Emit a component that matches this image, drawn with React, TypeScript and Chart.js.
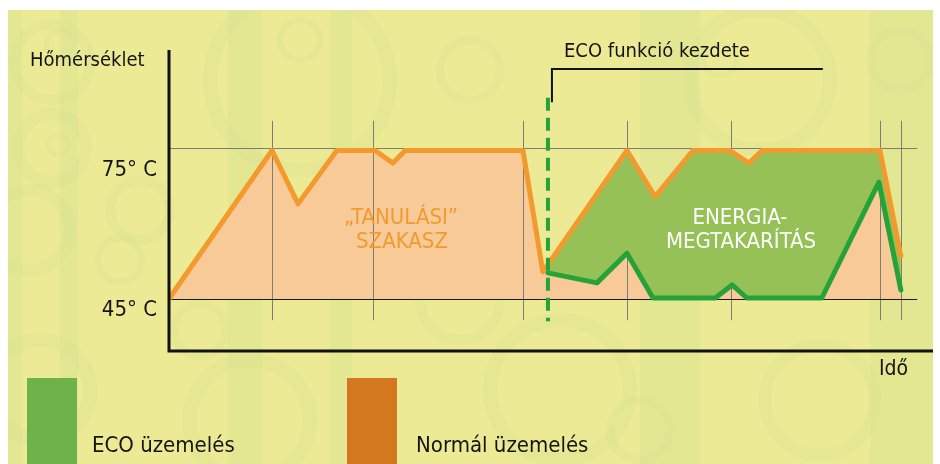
import React, { useEffect, useRef } from 'react';
import { Chart, registerables } from 'chart.js';

Chart.register(...registerables);

// ---- data (time in arbitrary units, temperature in °C) ----
const normalTime = [0.3, 20.4, 25.5, 33.1, 40.6, 44.1, 46.5, 69.6, 73.5, 90, 95.5, 102.9, 110.2, 113.9, 116.5, 139.6, 143.7];
const normalTemp = [45.2, 74.5, 63.9, 74.5, 74.5, 72.0, 74.5, 74.5, 50.4, 74.5, 65.3, 74.5, 74.5, 72.0, 74.5, 74.5, 53.5];
const ecoTime = [74.5, 84.1, 90, 95.1, 107.3, 110.6, 113.5, 128.2, 139.4, 143.7];
const ecoTemp = [50.2, 48.2, 54.1, 45.2, 45.2, 47.8, 45.2, 45.2, 68.2, 46.8];
const markerTimes = [20.4, 40.2, 69.6, 90, 110.4, 139.6, 143.7];
const ecoStartTime = 74.5;
const tempLevels = [75, 45];
const tempLabels = ['75° C', '45° C'];
const seriesNames = ['ECO üzemelés', 'Normál üzemelés'];
const axisTitles = ['Hőmérséklet', 'Idő'];
const ecoStartLabel = 'ECO funkció kezdete';
const learningLabel = ['„TANULÁSI”', 'SZAKASZ'];
const savingLabel = ['ENERGIA-', 'MEGTAKARÍTÁS'];

const FONT = '"DejaVu Sans Condensed", "Liberation Sans Narrow", Roboto, sans-serif';
const C = {
  bg: '#ecea94',
  peach: '#f8ca98',
  orange: '#f39a2e',
  greenFill: '#95c156',
  greenLine: '#27a238',
  legendGreen: '#6db34a',
  legendOrange: '#d3781e',
  grid: '#7d7d76',
  ink: '#141414',
};

const rings: [number, number, number, number][] = [
  [52, 62, 38, 10], [60, 45, 14, 5], [52, 148, 34, 12], [58, 145, 10, 4], [30, 230, 40, 12],
  [140, 210, 30, 10], [40, 390, 50, 14], [120, 260, 22, 7], [300, 80, 90, 14], [300, 40, 20, 6],
  [250, 420, 60, 14], [470, 70, 30, 8], [560, 390, 70, 14], [640, 430, 30, 8], [760, 80, 70, 14],
  [720, 60, 16, 5], [820, 400, 55, 12], [900, 60, 30, 8], [460, 300, 40, 10], [200, 330, 26, 8],
];
const bands: [number, number][] = [[8, 22], [60, 78], [228, 262], [330, 352], [640, 700], [870, 933]];

function txt(ctx: CanvasRenderingContext2D, s: string, x: number, y: number, size: number, color: string, align: CanvasTextAlign = 'left') {
  ctx.save();
  ctx.font = `${size}px ${FONT}`;
  ctx.fillStyle = color;
  ctx.textAlign = align;
  ctx.textBaseline = 'alphabetic';
  ctx.fillText(s, x, y);
  ctx.restore();
}

const decorPlugin = {
  id: 'decor',
  beforeDraw(chart: any) {
    const ctx = chart.ctx as CanvasRenderingContext2D;
    ctx.save();
    ctx.fillStyle = '#ffffff';
    ctx.fillRect(0, 0, chart.width, chart.height);
    ctx.beginPath();
    ctx.rect(8, 10, 925, 454);
    ctx.clip();
    ctx.fillStyle = C.bg;
    ctx.fillRect(8, 10, 925, 454);
    ctx.fillStyle = 'rgba(200,222,140,0.22)';
    bands.forEach(([a, b]) => ctx.fillRect(a, 10, b - a, 454));
    ctx.strokeStyle = 'rgba(205,224,140,0.22)';
    rings.forEach(([x, y, r, w]) => {
      ctx.lineWidth = w;
      ctx.beginPath();
      ctx.arc(x, y, r, 0, Math.PI * 2);
      ctx.stroke();
    });
    ctx.restore();
  },
  afterDatasetDraw(chart: any, args: any) {
    if (args.index !== 2) return;
    const ctx = chart.ctx as CanvasRenderingContext2D;
    const xs = chart.scales.x;
    const ys = chart.scales.y;
    ctx.save();
    ctx.strokeStyle = C.grid;
    ctx.lineWidth = 1;
    markerTimes.forEach((t) => {
      const px = Math.round(xs.getPixelForValue(t)) + 0.5;
      ctx.beginPath();
      ctx.moveTo(px, ys.getPixelForValue(80.4));
      ctx.lineTo(px, ys.getPixelForValue(40.8));
      ctx.stroke();
    });
    tempLevels.forEach((v, i) => {
      const py = Math.round(ys.getPixelForValue(v)) + 0.5;
      ctx.strokeStyle = i === 0 ? C.grid : '#1a1a1a';
      ctx.beginPath();
      ctx.moveTo(xs.left, py);
      ctx.lineTo(xs.getPixelForValue(146.9), py);
      ctx.stroke();
    });
    ctx.restore();
  },
  afterDraw(chart: any) {
    const ctx = chart.ctx as CanvasRenderingContext2D;
    const xs = chart.scales.x;
    const ys = chart.scales.y;
    const a = chart.chartArea;
    ctx.save();
    ctx.strokeStyle = '#111';
    ctx.lineWidth = 3;
    ctx.lineCap = 'butt';
    ctx.beginPath();
    ctx.moveTo(a.left + 1, a.top);
    ctx.lineTo(a.left + 1, a.bottom);
    ctx.lineTo(a.right, a.bottom);
    ctx.stroke();
    const ex = xs.getPixelForValue(ecoStartTime);
    ctx.strokeStyle = C.greenLine;
    ctx.lineWidth = 4;
    ctx.setLineDash([13, 7]);
    ctx.beginPath();
    ctx.moveTo(ex, ys.getPixelForValue(85.0));
    ctx.lineTo(ex, ys.getPixelForValue(40.6));
    ctx.stroke();
    ctx.setLineDash([]);
    ctx.strokeStyle = '#111';
    ctx.lineWidth = 2;
    ctx.beginPath();
    ctx.moveTo(ex + 4, ys.getPixelForValue(84.1));
    ctx.lineTo(ex + 4, ys.getPixelForValue(90.7));
    ctx.lineTo(xs.getPixelForValue(128.4), ys.getPixelForValue(90.7));
    ctx.stroke();
    ctx.restore();

    txt(ctx, axisTitles[0], 30, 66, 20, C.ink);
    txt(ctx, tempLabels[0], 157, 176, 22, C.ink, 'right');
    txt(ctx, tempLabels[1], 157, 316, 22, C.ink, 'right');
    txt(ctx, axisTitles[1], 908, 375, 21, C.ink, 'right');
    txt(ctx, ecoStartLabel, 564, 57, 20, C.ink);
    txt(ctx, learningLabel[0], 401, 224, 22, C.orange, 'center');
    txt(ctx, learningLabel[1], 402, 248, 22, C.orange, 'center');
    txt(ctx, savingLabel[0], 740, 224, 22, '#ffffff', 'center');
    txt(ctx, savingLabel[1], 741, 248, 22, '#ffffff', 'center');

    ctx.save();
    ctx.fillStyle = C.legendGreen;
    ctx.fillRect(27, 378, 50, 86);
    ctx.fillStyle = C.legendOrange;
    ctx.fillRect(347, 378, 50, 86);
    ctx.restore();
    txt(ctx, seriesNames[0], 92, 452, 22, C.ink);
    txt(ctx, seriesNames[1], 416, 452, 22, C.ink);
  },
};

export default function App() {
  const ref = useRef<HTMLCanvasElement | null>(null);
  useEffect(() => {
    if (!ref.current) return;
    const normal = normalTime.map((x, i) => ({ x, y: normalTemp[i] }));
    const eco = ecoTime.map((x, i) => ({ x, y: ecoTemp[i] }));
    const chart = new Chart(ref.current, {
      type: 'line',
      data: {
        datasets: [
          {
            label: seriesNames[1],
            data: normal,
            borderColor: C.orange,
            borderWidth: 5,
            borderJoinStyle: 'round',
            borderCapStyle: 'round',
            pointRadius: 0,
            tension: 0,
            fill: false,
          },
          {
            label: seriesNames[0],
            data: eco,
            borderColor: C.greenLine,
            borderWidth: 5,
            borderJoinStyle: 'round',
            borderCapStyle: 'round',
            pointRadius: 0,
            tension: 0,
            fill: { target: 0, above: C.greenFill, below: C.greenFill },
          },
          {
            label: 'area',
            data: normal,
            borderColor: 'rgba(0,0,0,0)',
            borderWidth: 0,
            pointRadius: 0,
            tension: 0,
            backgroundColor: C.peach,
            fill: { value: 45 },
          },
        ],
      },
      options: {
        animation: false,
        responsive: false,
        devicePixelRatio: 1,
        layout: { padding: { left: 168, right: 7, top: 50, bottom: 113 } },
        scales: {
          x: { type: 'linear', min: 0, max: 150, display: false },
          y: { type: 'linear', min: 34.67, max: 94.47, display: false },
        },
        plugins: {
          legend: { display: false },
          tooltip: { enabled: false },
          filler: { drawTime: 'beforeDatasetDraw' },
        },
      },
      plugins: [decorPlugin],
    } as any);
    return () => chart.destroy();
  }, []);
  return (
    <div style={{ position: 'fixed', left: 0, top: 0, width: 940, height: 464 }}>
      <canvas ref={ref} width={940} height={464} style={{ display: 'block', width: 940, height: 464 }} />
    </div>
  );
}
